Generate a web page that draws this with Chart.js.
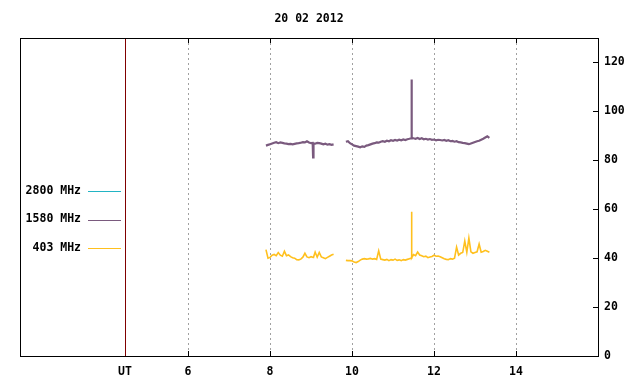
<!DOCTYPE html>
<html>
<head>
<meta charset="utf-8">
<script src="https://cdn.jsdelivr.net/npm/chart.js@4.4.1/dist/chart.umd.min.js"></script>
<style>
  html, body { margin: 0; padding: 0; background: #fff; }
  #wrap { width: 640px; height: 384px; }
</style>
</head>
<body>
<div id="wrap"><canvas id="chart" width="640" height="384"></canvas></div>
<script>
// Dados (horas UT, fluxo)
const titleText = '20 02 2012';
const seriesNames = ['2800 MHz', '1580 MHz', '403 MHz'];
const seriesColors = ['#22b4c4', '#7a5a7e', '#ffc01e'];
const xTicks = [6, 8, 10, 12, 14];
const yTicks = [0, 20, 40, 60, 80, 100, 120];
const utHour = 4.46;

const hours = [
  7.9, 7.95, 8.0, 8.05, 8.1, 8.15, 8.2, 8.25, 8.3, 8.35, 8.4, 8.45, 8.5, 8.55, 8.6, 8.65, 8.7,
  8.75, 8.8, 8.85, 8.9, 8.95, 9.0, 9.04, 9.05, 9.06, 9.1, 9.15, 9.2, 9.25, 9.3, 9.35, 9.4, 9.45, 9.5, 9.55,
  9.7,
  9.85, 9.9, 9.95, 10.0, 10.05, 10.1, 10.15, 10.2, 10.25, 10.3, 10.35, 10.4, 10.45, 10.5, 10.55, 10.6,
  10.65, 10.7, 10.75, 10.8, 10.85, 10.9, 10.95, 11.0, 11.05, 11.1, 11.15, 11.2, 11.25, 11.3, 11.35, 11.4,
  11.44, 11.45, 11.46,
  11.5, 11.55, 11.6, 11.65, 11.7, 11.75, 11.8, 11.85, 11.9, 11.95, 12.0, 12.05, 12.1, 12.15, 12.2, 12.25,
  12.3, 12.35, 12.4, 12.45, 12.5, 12.55, 12.6, 12.65, 12.7, 12.75, 12.8, 12.85, 12.9, 12.95, 13.0, 13.05,
  13.1, 13.15, 13.2, 13.25, 13.3, 13.35
];

const mhz2800 = []; // sem dados neste dia

const mhz1580 = [
  86.0, 86.3, 86.6, 86.9, 87.2, 87.4, 87.0, 87.3, 87.1, 86.9, 86.8, 86.6, 86.7, 86.5, 86.7, 86.9, 87.0,
  87.2, 87.4, 87.3, 87.8, 87.3, 87.0, 87.1, 81.2, 86.9, 86.8, 87.1, 87.0, 86.8, 86.5, 86.8, 86.4, 86.6, 86.3, 86.5,
  null,
  87.6, 87.8, 87.0, 86.5, 86.0, 85.8, 85.6, 85.3, 85.7, 85.5, 86.0, 86.2, 86.5, 86.8, 87.0, 87.3,
  87.2, 87.6, 87.8, 87.6, 88.0, 87.8, 88.2, 88.0, 88.3, 88.1, 88.4, 88.2, 88.5, 88.3, 88.6, 88.8,
  89.0, 113.0, 89.2,
  89.0, 88.8, 89.1, 88.7, 89.0, 88.6, 88.8, 88.5, 88.7, 88.4, 88.5, 88.2, 88.4, 88.3, 88.1, 88.3,
  88.0, 88.2, 87.8, 87.9, 87.6, 87.8, 87.4, 87.3, 87.1, 87.0, 86.8, 86.6, 86.9, 87.2, 87.5, 87.8,
  88.0, 88.4, 88.8, 89.3, 89.8, 89.2
];

const mhz403 = [
  43.5, 40.0, 40.3, 41.2, 41.5, 41.0, 42.3, 41.2, 40.8, 42.8, 41.0, 41.3, 40.6, 40.2, 40.0, 39.4, 39.3,
  39.6, 40.4, 42.0, 40.5, 40.2, 40.6, 40.4, 40.3, 40.4, 42.5, 40.4, 42.3, 40.5, 40.2, 39.8, 40.3, 40.8, 41.3, 41.6,
  null,
  39.1, 39.0, 39.0, 38.9, 38.4, 38.2, 38.6, 39.2, 39.6, 39.8, 39.6, 39.7, 39.9, 39.6, 39.8, 39.5,
  43.0, 39.6, 39.4, 39.2, 39.5, 39.0, 39.4, 39.2, 39.6, 39.1, 39.3, 39.0, 39.4, 39.2, 39.5, 39.8,
  40.0, 59.0, 40.2,
  41.5, 41.0, 42.5, 41.3, 41.0, 40.6, 40.8, 40.2, 40.5, 40.7, 41.2, 40.8, 40.9, 40.6, 40.2, 39.8,
  39.5, 39.4, 39.8, 39.6, 40.0, 44.5, 41.3, 42.0, 42.3, 47.0, 42.4, 48.2, 42.6, 42.0, 42.3, 42.6,
  45.8, 42.4, 42.7, 43.2, 42.8, 42.4
];

const FONT = '"DejaVu Sans Mono", "Liberation Mono", monospace';

function toPoints(values) {
  return values.map((v, i) => ({ x: hours[i], y: v }));
}

// Moldura, marcas internas, linha UT, título e legenda
const framePlugin = {
  id: 'frame',
  afterDraw(chart) {
    const { ctx, chartArea: a, scales } = chart;
    const xs = scales.x;
    const ys = scales.y;
    ctx.save();

    // linha UT
    const ux = Math.round(xs.getPixelForValue(utHour)) + 0.5;
    ctx.strokeStyle = '#800000';
    ctx.lineWidth = 1;
    ctx.beginPath();
    ctx.moveTo(ux, a.top);
    ctx.lineTo(ux, a.bottom);
    ctx.stroke();

    // moldura
    ctx.strokeStyle = '#000';
    ctx.strokeRect(Math.round(a.left) + 0.5, Math.round(a.top) + 0.5,
      Math.round(a.right - a.left), Math.round(a.bottom - a.top));

    // marcas no eixo x (baixo e topo)
    ctx.beginPath();
    xTicks.forEach(v => {
      const px = Math.round(xs.getPixelForValue(v)) + 0.5;
      ctx.moveTo(px, a.bottom);
      ctx.lineTo(px, a.bottom - 5);
      ctx.moveTo(px, a.top);
      ctx.lineTo(px, a.top + 5);
    });
    // marcas no eixo y (direita)
    yTicks.forEach(v => {
      const py = Math.round(ys.getPixelForValue(v)) + 0.5;
      ctx.moveTo(a.right, py);
      ctx.lineTo(a.right - 5, py);
    });
    ctx.stroke();

    // título
    ctx.fillStyle = '#000';
    ctx.font = 'bold 11.5px ' + FONT;
    ctx.textAlign = 'center';
    ctx.textBaseline = 'middle';
    ctx.fillText(titleText, (a.left + a.right) / 2, 19);

    // legenda
    chart.data.datasets.forEach((ds, i) => {
      const y = 191 + i * 28.5;
      ctx.textAlign = 'right';
      ctx.fillStyle = '#000';
      ctx.fillText(ds.label, 81, y);
      ctx.strokeStyle = ds.borderColor;
      ctx.lineWidth = 1;
      ctx.beginPath();
      ctx.moveTo(88, Math.round(y) + 0.5);
      ctx.lineTo(121, Math.round(y) + 0.5);
      ctx.stroke();
    });

    ctx.restore();
  }
};

new Chart(document.getElementById('chart'), {
  type: 'line',
  data: {
    datasets: [
      { label: seriesNames[0], data: toPoints(mhz2800), borderColor: seriesColors[0], borderWidth: 1 },
      { label: seriesNames[1], data: toPoints(mhz1580), borderColor: seriesColors[1], borderWidth: 2.2 },
      { label: seriesNames[2], data: toPoints(mhz403), borderColor: seriesColors[2], borderWidth: 1.6 }
    ]
  },
  options: {
    responsive: false,
    animation: false,
    elements: { point: { radius: 0 }, line: { tension: 0 } },
    layout: { padding: { left: 20, top: 38, right: 0, bottom: 0 } },
    plugins: {
      legend: { display: false },
      title: { display: false },
      tooltip: { enabled: false }
    },
    scales: {
      x: {
        type: 'linear',
        position: 'bottom',
        min: 1.9,
        max: 16,
        afterBuildTicks: s => { s.ticks = [utHour, ...xTicks].map(v => ({ value: v })); },
        afterFit: s => { s.height = 28; },
        ticks: {
          autoSkip: false,
          maxRotation: 0,
          padding: 9,
          color: '#000',
          font: { family: FONT, size: 11.5, weight: 'bold' },
          callback: v => (v === utHour ? 'UT' : String(v))
        },
        grid: {
          drawTicks: false,
          color: c => (c.tick && c.tick.value === utHour ? 'rgba(0,0,0,0)' : '#a0a0a0'),
          lineWidth: 1
        },
        border: { display: false, dash: [2, 3] }
      },
      y: {
        type: 'linear',
        position: 'right',
        min: 0,
        max: 130,
        afterBuildTicks: s => { s.ticks = yTicks.map(v => ({ value: v })); },
        afterFit: s => { s.width = 42; },
        ticks: {
          padding: 6,
          color: '#000',
          font: { family: FONT, size: 11.5, weight: 'bold' }
        },
        grid: { display: false, drawTicks: false },
        border: { display: false }
      }
    }
  },
  plugins: [framePlugin]
});
</script>
</body>
</html>
